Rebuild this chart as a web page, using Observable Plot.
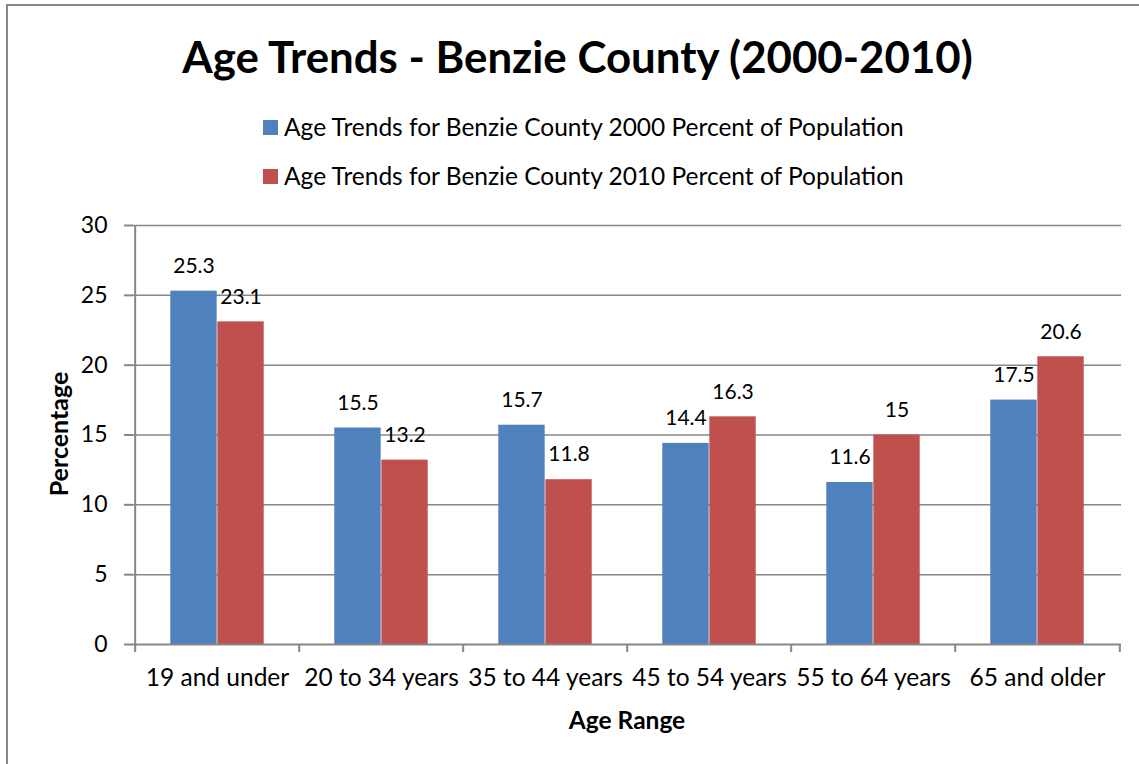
<!DOCTYPE html>
<html>
<head>
<meta charset="utf-8">
<script src="https://cdn.jsdelivr.net/npm/d3@7"></script>
<script src="https://cdn.jsdelivr.net/npm/@observablehq/plot@0.6"></script>
<style>
  html, body { margin: 0; padding: 0; background: #fff; }
  #wrap { position: relative; width: 1139px; height: 764px; overflow: hidden; font-family: Lato, "Open Sans", sans-serif; color: #000; }
  #border { position: absolute; left: 6px; top: 4px; width: 1200px; height: 900px; border: 2px solid #878787; box-sizing: border-box; }
  #title { position: absolute; left: 0; width: 1155px; top: 27px; text-align: center; font-weight: 700; font-size: 43.8px; line-height: 58px; white-space: nowrap; }
  .leg { position: absolute; left: 263px; font-size: 24.5px; line-height: 30px; white-space: nowrap; display: flex; align-items: center; }
  .sw { display: inline-block; width: 15px; height: 15px; margin-right: 6px; }
  #ylab { position: absolute; left: 58px; top: 434px; transform: translate(-50%, -50%) rotate(-90deg); font-weight: 700; font-size: 25px; white-space: nowrap; }
  #xlab { position: absolute; left: 627px; top: 719px; transform: translate(-50%, -50%); font-weight: 700; font-size: 24.5px; white-space: nowrap; }
  #chart { position: absolute; left: 0; top: 195px; }
</style>
</head>
<body>
<div id="wrap">
  <div id="border"></div>
  <div id="title"></div>
  <div id="legend"></div>
  <div id="ylab"></div>
  <div id="xlab"></div>
  <div id="chart"></div>
</div>
<script>
const titleText = "Age Trends - Benzie County (2000-2010)";
const categories = ["19 and under", "20 to 34 years", "35 to 44 years", "45 to 54 years", "55 to 64 years", "65 and older"];
const seriesNames = [
  "Age Trends for Benzie County 2000 Percent of Population",
  "Age Trends for Benzie County 2010 Percent of Population"
];
const values2000 = [25.3, 15.5, 15.7, 14.4, 11.6, 17.5];
const values2010 = [23.1, 13.2, 11.8, 16.3, 15, 20.6];
const yTicks = [0, 5, 10, 15, 20, 25, 30];
const colors = ["#4F81BD", "#C0504D"];
const xLabel = "Age Range";
const yLabel = "Percentage";

const data2000 = categories.map((c, i) => ({category: c, series: seriesNames[0], value: values2000[i]}));
const data2010 = categories.map((c, i) => ({category: c, series: seriesNames[1], value: values2010[i]}));

document.getElementById("title").textContent = titleText;
document.getElementById("ylab").textContent = yLabel;
document.getElementById("xlab").textContent = xLabel;
const legend = document.getElementById("legend");
seriesNames.forEach((s, i) => {
  const row = document.createElement("div");
  row.className = "leg";
  row.style.top = (112 + i * 49) + "px";
  const sw = document.createElement("span");
  sw.className = "sw";
  sw.style.background = colors[i];
  row.appendChild(sw);
  row.appendChild(document.createTextNode(s));
  legend.appendChild(row);
});

const W = 1139, H = 569, mL = 133, mR = 18, mT = 30, mB = 120;
const bw = (W - mL - mR) / categories.length;
const barW = bw / 3.5;
const grey = "#878787";
const fontSize = 21;
const axisFont = 24.5;

const plot = Plot.plot({
  width: W,
  height: H,
  marginLeft: mL,
  marginRight: mR,
  marginTop: mT,
  marginBottom: mB,
  style: {fontFamily: "Lato, 'Open Sans', sans-serif", fontSize: fontSize + "px", background: "transparent", color: "#000"},
  x: {type: "band", domain: categories, padding: 0, label: null},
  y: {domain: [0, 30], label: null},
  marks: [
    Plot.ruleY(yTicks.filter(t => t > 0), {stroke: grey, strokeWidth: 1.5}),
    Plot.barY(data2000, {x: "category", y: "value", fill: colors[0], insetLeft: 0.75 * barW, insetRight: 1.75 * barW}),
    Plot.barY(data2010, {x: "category", y: "value", fill: colors[1], insetLeft: 1.75 * barW, insetRight: 0.75 * barW}),
    Plot.text(data2000, {x: "category", y: "value", text: d => String(d.value), dx: -barW / 2, dy: -25, fontSize: fontSize, fill: "#000"}),
    Plot.text(data2010, {x: "category", y: "value", text: d => String(d.value), dx: barW / 2, dy: -25, fontSize: fontSize, fill: "#000"}),
    Plot.ruleY([0], {stroke: grey, strokeWidth: 2}),
    Plot.ruleX([categories[0]], {dx: -bw / 2, stroke: grey, strokeWidth: 2}),
    Plot.axisY({ticks: yTicks, tickSize: 9, tickPadding: 17, stroke: grey, strokeWidth: 2, fill: "#000", fontSize: 23, label: null, tickFormat: d => String(d)}),
    Plot.axisX({tickSize: 0, tickPadding: 24, fill: "#000", fontSize: axisFont, label: null}),
    Plot.axisX({tickSize: 8, dx: -bw / 2, stroke: grey, strokeWidth: 2, fill: "none", label: null}),
    Plot.axisX({ticks: [categories[categories.length - 1]], tickSize: 8, dx: bw / 2, stroke: grey, strokeWidth: 2, fill: "none", label: null})
  ]
});
document.getElementById("chart").appendChild(plot);
</script>
</body>
</html>
